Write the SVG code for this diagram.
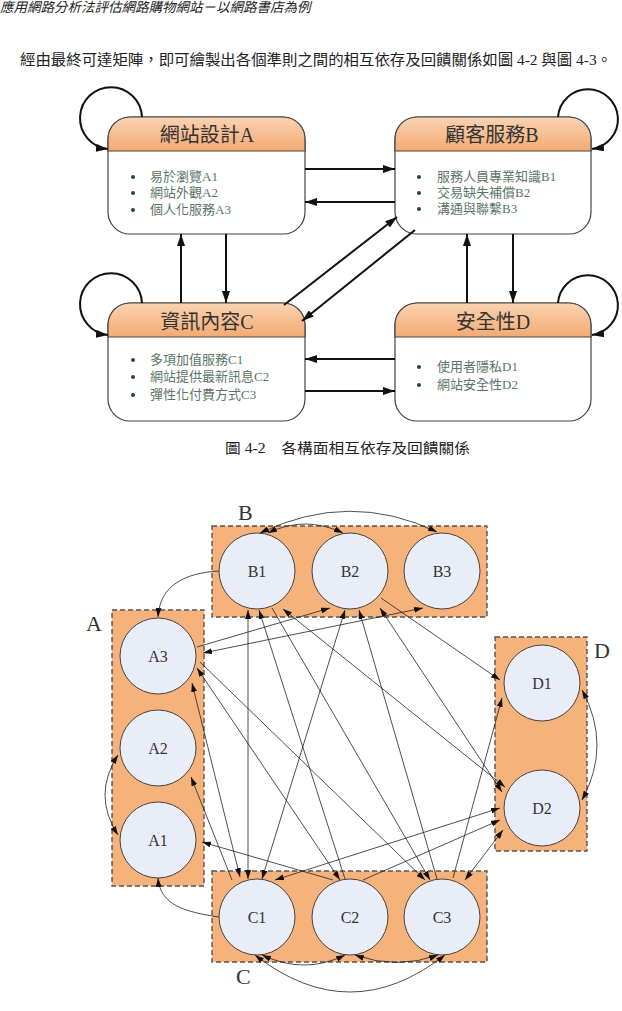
<svg xmlns="http://www.w3.org/2000/svg" width="622" height="1011" viewBox="0 0 622 1011">
<defs>
<linearGradient id="hdr" x1="0" y1="0" x2="0" y2="1">
<stop offset="0" stop-color="#fad3b2"/>
<stop offset="1" stop-color="#f3aa72"/>
</linearGradient>
<marker id="ah" viewBox="0 0 12 8" refX="12" refY="4" markerWidth="12" markerHeight="8" markerUnits="userSpaceOnUse" orient="auto-start-reverse">
<path d="M0,0 L12,4 L0,8 Z" fill="#111"/>
</marker>
<marker id="as" viewBox="0 0 9 6" refX="9" refY="3" markerWidth="9" markerHeight="6" markerUnits="userSpaceOnUse" orient="auto-start-reverse">
<path d="M0,0 L9,3 L0,6 Z" fill="#111"/>
</marker>
</defs>
<style>
.box{fill:#fff;stroke:#444;stroke-width:1.2}
.hd{fill:url(#hdr);stroke:#444;stroke-width:1.2}
.ttl{font-family:"Liberation Serif","Noto Sans CJK TC",serif;font-size:20px;fill:#333;text-anchor:middle}
.itm{font-family:"Liberation Serif","Noto Sans CJK TC",serif;font-size:13px;fill:#5b7566}
.bul{fill:#1f4a3a}
.tl{fill:none;stroke:#111;stroke-width:2}
.grp{fill:#f5b27a;stroke:#555;stroke-width:1.4;stroke-dasharray:5,3}
.nd{fill:#e9edf8;stroke:#333;stroke-width:0.9}
.nl{font-family:"Liberation Serif",serif;font-size:16px;fill:#333;text-anchor:middle}
.gl{font-family:"Liberation Serif",serif;font-size:22px;fill:#333}
.e{fill:none;stroke:#222;stroke-width:0.8}
.txt{font-family:"Liberation Serif","Noto Sans CJK TC",serif;fill:#222}
</style>
<rect width="622" height="1011" fill="#fff"/>
<text class="txt" x="0" y="12" font-size="13.5" font-style="italic" fill="#666">應用網路分析法評估網路購物網站－以網路書店為例</text>
<text class="txt" x="20" y="65" font-size="15" textLength="592" lengthAdjust="spacingAndGlyphs">經由最終可達矩陣，即可繪製出各個準則之間的相互依存及回饋關係如圖 4-2 與圖 4-3。</text>

<g id="boxA">
<rect class="box" x="108" y="117" width="197" height="117" rx="22"/>
<path class="hd" d="M108,151 V139 A22,22 0 0 1 130,117 H283 A22,22 0 0 1 305,139 V151 Z"/>
<text class="ttl" x="207" y="142">網站設計A</text>
<circle class="bul" cx="133" cy="177" r="2"/><text class="itm" x="150" y="181" fill="#8a9890">易於瀏覽A1</text>
<circle class="bul" cx="133" cy="193" r="2"/><text class="itm" x="150" y="197">網站外觀A2</text>
<circle class="bul" cx="133" cy="210" r="2"/><text class="itm" x="150" y="214">個人化服務A3</text>
</g>
<g id="boxB">
<rect class="box" x="395" y="117" width="196" height="117" rx="22"/>
<path class="hd" d="M395,151 V139 A22,22 0 0 1 417,117 H569 A22,22 0 0 1 591,139 V151 Z"/>
<text class="ttl" x="492" y="142">顧客服務B</text>
<circle class="bul" cx="419" cy="177" r="2"/><text class="itm" x="437" y="181" font-size="13.5">服務人員專業知識B1</text>
<circle class="bul" cx="419" cy="193" r="2"/><text class="itm" x="437" y="197" font-size="13.5">交易缺失補償B2</text>
<circle class="bul" cx="419" cy="209" r="2"/><text class="itm" x="437" y="213" font-size="13.5">溝通與聯繫B3</text>
</g>
<g id="boxC">
<rect class="box" x="108" y="303" width="197" height="118" rx="22"/>
<path class="hd" d="M108,337 V325 A22,22 0 0 1 130,303 H283 A22,22 0 0 1 305,325 V337 Z"/>
<text class="ttl" x="207" y="329">資訊內容C</text>
<circle class="bul" cx="133" cy="360" r="2"/><text class="itm" x="150" y="364">多項加值服務C1</text>
<circle class="bul" cx="133" cy="377" r="2"/><text class="itm" x="150" y="381">網站提供最新訊息C2</text>
<circle class="bul" cx="133" cy="395" r="2"/><text class="itm" x="150" y="399">彈性化付費方式C3</text>
</g>
<g id="boxD">
<rect class="box" x="395" y="303" width="196" height="118" rx="22"/>
<path class="hd" d="M395,337 V325 A22,22 0 0 1 417,303 H569 A22,22 0 0 1 591,325 V337 Z"/>
<text class="ttl" x="493" y="329">安全性D</text>
<circle class="bul" cx="419" cy="367" r="2"/><text class="itm" x="437" y="371" font-size="13.5">使用者隱私D1</text>
<circle class="bul" cx="419" cy="385" r="2"/><text class="itm" x="437" y="389" font-size="13.5">網站安全性D2</text>
</g>
<g id="top-connectors">
<path class="tl" d="M142,117 A31,31 0 1 0 108,149" marker-end="url(#ah)" stroke="#333"/>
<path class="tl" d="M558,117 A30,30 0 1 1 592,149" marker-end="url(#ah)"/>
<path class="tl" d="M142,303 A31,31 0 1 0 108,335" marker-end="url(#ah)"/>
<path class="tl" d="M558,303 A30,30 0 1 1 592,335" marker-end="url(#ah)"/>
<path class="tl" d="M305,169 H395" marker-end="url(#ah)"/>
<path class="tl" d="M395,202 H305" marker-end="url(#ah)"/>
<path class="tl" d="M181,303 V234" marker-end="url(#ah)"/>
<path class="tl" d="M226,234 V303" marker-end="url(#ah)"/>
<path class="tl" d="M467,303 V234" marker-end="url(#ah)"/>
<path class="tl" d="M513,234 V303" marker-end="url(#ah)"/>
<path class="tl" d="M284,305 L397,217" marker-end="url(#ah)"/>
<path class="tl" d="M415,230 L302,321" marker-end="url(#ah)"/>
<path class="tl" d="M395,359 H305" marker-end="url(#ah)"/>
<path class="tl" d="M305,391 H395" marker-end="url(#ah)"/>
</g>
<text class="txt" x="225" y="453" font-size="14" textLength="245" lengthAdjust="spacingAndGlyphs">圖 4-2　各構面相互依存及回饋關係</text>

<g id="groupB"><rect class="grp" x="212" y="526" width="275" height="91"/><text class="gl" x="238" y="520">B</text></g>
<g id="groupA"><rect class="grp" x="112" y="610" width="92" height="276"/><text class="gl" x="86" y="631">A</text></g>
<g id="groupD"><rect class="grp" x="495" y="637" width="92" height="214"/><text class="gl" x="594" y="658">D</text></g>
<g id="groupC"><rect class="grp" x="212" y="871" width="275" height="91"/><text class="gl" x="236" y="984">C</text></g>

<g id="B1"><circle class="nd" cx="257" cy="571" r="38"/><text class="nl" x="257" y="577">B1</text></g>
<g id="B2"><circle class="nd" cx="350" cy="571" r="38"/><text class="nl" x="350" y="577">B2</text></g>
<g id="B3"><circle class="nd" cx="442" cy="571" r="38"/><text class="nl" x="442" y="577">B3</text></g>
<g id="A3"><circle class="nd" cx="158" cy="656" r="38"/><text class="nl" x="158" y="662">A3</text></g>
<g id="A2"><circle class="nd" cx="158" cy="748" r="38"/><text class="nl" x="158" y="754">A2</text></g>
<g id="A1"><circle class="nd" cx="158" cy="840" r="38"/><text class="nl" x="158" y="846">A1</text></g>
<g id="D1"><circle class="nd" cx="542" cy="683" r="38"/><text class="nl" x="542" y="689">D1</text></g>
<g id="D2"><circle class="nd" cx="542" cy="808" r="38"/><text class="nl" x="542" y="814">D2</text></g>
<g id="C1"><circle class="nd" cx="257" cy="917" r="38"/><text class="nl" x="257" y="923">C1</text></g>
<g id="C2"><circle class="nd" cx="350" cy="917" r="38"/><text class="nl" x="350" y="923">C2</text></g>
<g id="C3"><circle class="nd" cx="442" cy="917" r="38"/><text class="nl" x="442" y="923">C3</text></g>

<g id="connectors">
<path class="e" d="M268,533 Q305,515 343,533" marker-start="url(#as)" marker-end="url(#as)"/>
<path class="e" d="M260,533 Q350,490 437,532" marker-start="url(#as)" marker-end="url(#as)"/>
<path class="e" d="M219,571 C185,573 160,585 158,617" marker-end="url(#as)"/>
<path class="e" d="M118,755 Q92,795 118,835" marker-start="url(#as)" marker-end="url(#as)"/>
<path class="e" d="M219,917 C185,912 160,905 158,878" marker-end="url(#as)"/>
<path class="e" d="M262,955 Q305,975 345,955" marker-start="url(#as)" marker-end="url(#as)"/>
<path class="e" d="M355,955 Q397,970 438,955" marker-start="url(#as)" marker-end="url(#as)"/>
<path class="e" d="M255,955 Q350,1029 445,955" marker-start="url(#as)" marker-end="url(#as)"/>
<path class="e" d="M582,690 Q612,745 582,800" marker-start="url(#as)" marker-end="url(#as)"/>
<path class="e" d="M248,610 V879" marker-start="url(#as)" marker-end="url(#as)"/>
<path class="e" d="M197,647 L330,608" marker-end="url(#as)"/>
<path class="e" d="M203,653 L423,608" marker-start="url(#as)" marker-end="url(#as)"/>
<path class="e" d="M345,879 L259,610" marker-end="url(#as)"/>
<path class="e" d="M272,608 L430,880" marker-end="url(#as)"/>
<path class="e" d="M505,787 L283,609" marker-start="url(#as)" marker-end="url(#as)"/>
<path class="e" d="M345,610 L262,879" marker-start="url(#as)" marker-end="url(#as)"/>
<path class="e" d="M359,610 L437,879" marker-start="url(#as)"/>
<path class="e" d="M380,608 L502,792" marker-start="url(#as)" marker-end="url(#as)"/>
<path class="e" d="M381,598 L500,680" marker-end="url(#as)"/>
<path class="e" d="M240,877 L192,683" marker-start="url(#as)" marker-end="url(#as)"/>
<path class="e" d="M197,668 L340,880" marker-start="url(#as)" marker-end="url(#as)"/>
<path class="e" d="M200,662 L425,880" marker-end="url(#as)"/>
<path class="e" d="M232,880 L191,777" marker-end="url(#as)"/>
<path class="e" d="M333,880 L202,842" marker-end="url(#as)"/>
<path class="e" d="M500,808 L275,880" marker-start="url(#as)" marker-end="url(#as)"/>
<path class="e" d="M363,880 L500,820" marker-end="url(#as)"/>
<path class="e" d="M453,878 L502,698" marker-end="url(#as)"/>
<path class="e" d="M465,880 L503,830" marker-start="url(#as)" marker-end="url(#as)"/>
</g>
</svg>
